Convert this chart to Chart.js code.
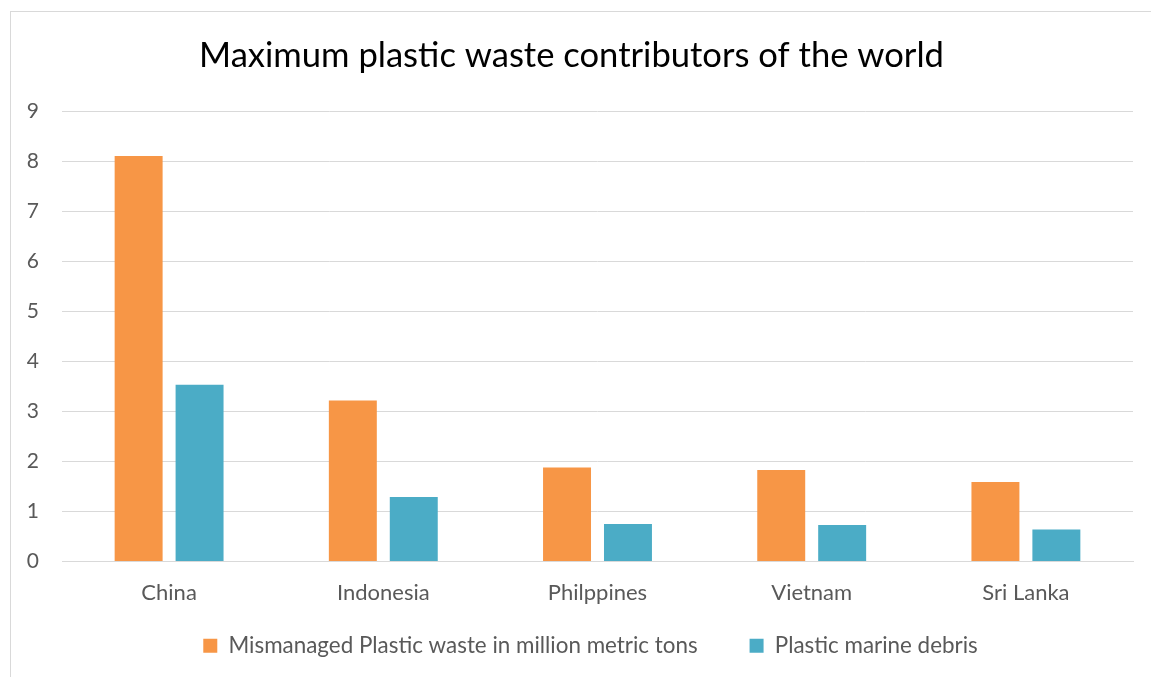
<!DOCTYPE html>
<html>
<head>
<meta charset="utf-8">
<script src="https://cdn.jsdelivr.net/npm/chart.js@4.4.1/dist/chart.umd.min.js"></script>
<style>
  html, body { margin: 0; padding: 0; background: #fff; }
  body { width: 1151px; height: 677px; position: relative; overflow: hidden; }
  #frame { position: absolute; left: 10px; top: 11px; right: -4px; bottom: -4px; border: 1px solid #d9d9d9; }
  #chart { position: absolute; left: 0; top: 0; }
</style>
</head>
<body>
<div id="frame"></div>
<canvas id="chart" width="1151" height="677"></canvas>
<script>
const countries = ["China", "Indonesia", "Philppines", "Vietnam", "Sri Lanka"];
const mismanaged = [8.1, 3.22, 1.88, 1.83, 1.59];
const marineDebris = [3.53, 1.29, 0.75, 0.73, 0.64];
const yTickValues = [0, 1, 2, 3, 4, 5, 6, 7, 8, 9];

const ORANGE = "#F79646";
const TEAL = "#4BACC6";
const GRID = "#d9d9d9";
const TEXT = "#595959";
const FONT = "Lato, 'Open Sans', sans-serif";

// wider gap between legend entries without growing the legend's height
const legendGap = "    ";

// legend sits centred under the plot area rather than the whole canvas
const legendShift = {
  id: "legendShift",
  afterLayout(chart) {
    const dx = 19;
    chart.legend.left += dx;
    chart.legend.right += dx;
  },
};

new Chart(document.getElementById("chart"), {
  type: "bar",
  data: {
    labels: countries,
    datasets: [
      {
        label: "Mismanaged Plastic waste in million metric tons",
        data: mismanaged,
        backgroundColor: ORANGE,
        categoryPercentage: 0.569,
        barPercentage: 0.787,
      },
      {
        label: "Plastic marine debris",
        data: marineDebris,
        backgroundColor: TEAL,
        categoryPercentage: 0.569,
        barPercentage: 0.787,
      },
    ],
  },
  plugins: [legendShift],
  options: {
    responsive: false,
    animation: false,
    layout: { padding: { left: 10, right: 18, top: 0, bottom: 10 } },
    plugins: {
      title: {
        display: true,
        text: "Maximum plastic waste contributors of the world",
        color: "#000",
        font: { family: FONT, size: 34.6, weight: "normal" },
        padding: { top: 35, bottom: 34.5 },
      },
      legend: {
        position: "bottom",
        labels: {
          color: TEXT,
          font: { family: FONT, size: 22.4 },
          boxWidth: 14,
          boxHeight: 14,
          padding: 29,
          generateLabels: chart => {
            const items = Chart.defaults.plugins.legend.labels.generateLabels(chart);
            items.forEach((item, i) => {
              if (i < items.length - 1) item.text += legendGap;
            });
            return items;
          },
        },
      },
      tooltip: { enabled: false },
    },
    scales: {
      x: {
        grid: { display: false, drawTicks: false },
        border: { color: GRID, width: 1 },
        ticks: { color: TEXT, font: { family: FONT, size: 22 }, padding: 18 },
        afterFit: scale => { scale.height = 44; },
      },
      y: {
        min: 0,
        max: 9,
        afterBuildTicks: scale => { scale.ticks = yTickValues.map(v => ({ value: v })); },
        grid: { color: GRID, lineWidth: 1, drawTicks: false },
        border: { display: false },
        ticks: { color: TEXT, font: { family: FONT, size: 21 }, padding: 23 },
        afterFit: scale => { scale.width = 52; },
      },
    },
  },
});
</script>
</body>
</html>
